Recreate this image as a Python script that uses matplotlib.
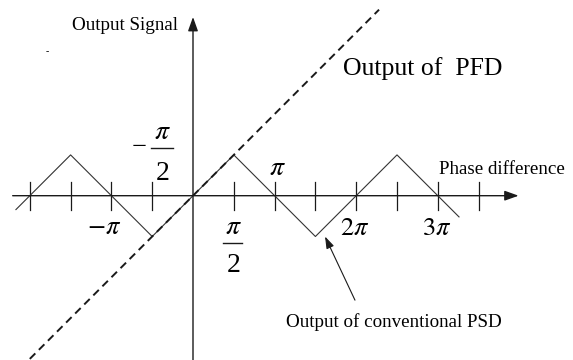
import numpy as np
import matplotlib
matplotlib.use("Agg")
import matplotlib.pyplot as plt

plt.rcParams['font.family'] = ['Liberation Serif', 'DejaVu Serif']
plt.rcParams['mathtext.fontset'] = 'stix'

# phase and signal both in units of pi
tick_pos = [-2.0, -1.5, -1.0, -0.5, 0.5, 1.0, 1.5, 2.0, 2.5, 3.0, 3.5]

# conventional phase/sign detector: triangle wave
psd_x = [-2.17, -1.5, -0.5, 0.5, 1.5, 2.5, 3.26]
psd_y = [-0.17, 0.5, -0.5, 0.5, -0.5, 0.5, -0.26]

# phase-frequency detector: linear response
pfd_x = [-2.0, 2.28]
pfd_y = [-2.0, 2.28]

# pixel geometry of the drawing (81.6 px per pi, origin at 193, 195.7)
PX = 81.6
xlim = (-193 / PX, (573 - 193) / PX)
ylim = (-(360 - 195.7) / PX, 195.7 / PX)

fig = plt.figure(figsize=(5.73, 3.6), dpi=100)
ax = fig.add_axes([0, 0, 1, 1])
ax.set_xlim(*xlim)
ax.set_ylim(*ylim)
ax.axis('off')

ink = '#1a1a1a'

# axes with arrow heads
ax.annotate('', xy=(3.99, 0), xytext=(-2.21, 0),
            arrowprops=dict(arrowstyle='-|>,head_length=0.7,head_width=0.25',
                            color=ink, lw=1.0, shrinkA=0, shrinkB=0, mutation_scale=12))
ax.annotate('', xy=(0, 2.19), xytext=(0, -2.1),
            arrowprops=dict(arrowstyle='-|>,head_length=0.7,head_width=0.25',
                            color=ink, lw=1.0, shrinkA=0, shrinkB=0, mutation_scale=12))

# tick marks on the phase axis
for t in tick_pos:
    ax.plot([t, t], [-0.17, 0.17], color=ink, lw=0.9)

ax.plot(psd_x, psd_y, color='#333333', lw=0.8)
ax.plot(pfd_x, pfd_y, color=ink, lw=1.4, dashes=(4.0, 2.6))

# labels
ax.text(-0.18, 2.08, 'Output Signal', ha='right', va='center', fontsize=13.7)
ax.text(-1.78, 1.76, '-', ha='center', va='center', fontsize=7)
ax.text(2.82, 1.556, 'Output of  PFD', ha='center', va='center', fontsize=18.5)
ax.text(3.79, 0.315, 'Phase difference', ha='center', va='center', fontsize=13.7)
ax.text(2.457, -1.548, 'Output of conventional PSD', ha='center', va='center', fontsize=13.7)

ax.annotate('', xy=(1.618, -0.50), xytext=(1.985, -1.28),
            arrowprops=dict(arrowstyle='-|>,head_length=0.6,head_width=0.2',
                            color=ink, lw=0.8, shrinkA=0, shrinkB=0, mutation_scale=12))

ax.text(1.03, 0.33, r'$\pi$', ha='center', va='center', fontsize=20)
ax.text(-1.09, -0.40, r'$-\pi$', ha='center', va='center', fontsize=19)
ax.text(1.985, -0.41, r'$2\pi$', ha='center', va='center', fontsize=19)
ax.text(2.98, -0.41, r'$3\pi$', ha='center', va='center', fontsize=19)

# -pi/2 fraction
ax.text(-0.656, 0.59, '\u2212', ha='center', va='center', fontsize=19)
ax.text(-0.38, 0.78, r'$\pi$', ha='center', va='center', fontsize=20)
ax.plot([-0.515, -0.245], [0.585, 0.585], color=ink, lw=1.0)
ax.text(-0.37, 0.27, '2', ha='center', va='center', fontsize=20)

# pi/2 fraction
ax.text(0.49, -0.384, r'$\pi$', ha='center', va='center', fontsize=20)
ax.plot([0.368, 0.60], [-0.58, -0.58], color=ink, lw=1.0)
ax.text(0.50, -0.86, '2', ha='center', va='center', fontsize=20)

fig.savefig('out.png', dpi=100)
